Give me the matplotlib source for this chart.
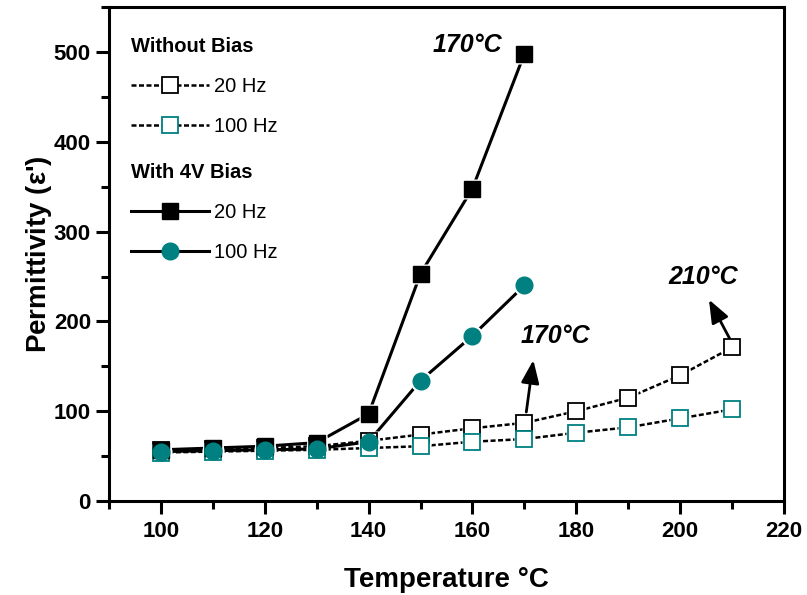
import numpy as np
import matplotlib.pyplot as plt

plt.rcParams['font.family'] = ['Liberation Sans', 'DejaVu Sans']
plt.rcParams['mathtext.fontset'] = 'custom'
plt.rcParams['mathtext.rm'] = 'Liberation Sans'

teal = '#008080'

# without bias (open squares)
temp_nb = [100, 110, 120, 130, 140, 150, 160, 170, 180, 190, 200, 210]
nb_20hz = [57, 58, 59, 61, 67, 74, 81, 87, 100, 115, 140, 171]
nb_100hz = [54, 55, 56, 57, 59, 61, 66, 69, 76, 82, 92, 102]

# with 4V bias (filled)
temp_b = [100, 110, 120, 130, 140, 150, 160, 170]
b_20hz = [57, 59, 61, 65, 97, 253, 348, 498]
b_100hz = [55, 56, 57, 58, 66, 134, 184, 240]

fig = plt.figure(figsize=(8.07, 5.95), dpi=100)
ax = fig.add_axes([0.135, 0.158, 0.8365, 0.83])

dash = (0, (2, 1))
ms = 11

# lines
ax.plot(temp_nb, nb_20hz, color='black', lw=1.8, ls=dash, zorder=2)
ax.plot(temp_nb, nb_100hz, color='black', lw=1.8, ls=dash, zorder=2)
ax.plot(temp_b, b_20hz, color='black', lw=2.2, zorder=2)
ax.plot(temp_b, b_100hz, color='black', lw=2.2, zorder=2)

# white halos to leave a gap between lines and markers
ax.plot(temp_nb, nb_20hz, ls='none', marker='s', ms=ms + 4, mfc='white', mec='none', zorder=3)
ax.plot(temp_nb, nb_100hz, ls='none', marker='s', ms=ms + 4, mfc='white', mec='none', zorder=3)
ax.plot(temp_b, b_20hz, ls='none', marker='s', ms=ms + 4, mfc='white', mec='none', zorder=3)
ax.plot(temp_b, b_100hz, ls='none', marker='o', ms=ms + 5, mfc='white', mec='none', zorder=3)

# markers
ax.plot(temp_nb, nb_20hz, ls='none', marker='s', ms=ms, mfc='white', mec='black', mew=1.3, zorder=4)
ax.plot(temp_nb, nb_100hz, ls='none', marker='s', ms=ms, mfc='white', mec=teal, mew=1.3, zorder=4)
ax.plot(temp_b, b_20hz, ls='none', marker='s', ms=ms, mfc='black', mec='black', zorder=5)
ax.plot(temp_b, b_100hz, ls='none', marker='o', ms=ms + 1, mfc=teal, mec=teal, zorder=6)

# legend handles
h1, = ax.plot([], [], color='black', lw=1.8, ls=dash, marker='s', ms=ms, mfc='white', mec='black', mew=1.3)
h2, = ax.plot([], [], color='black', lw=1.8, ls=dash, marker='s', ms=ms, mfc='white', mec=teal, mew=1.3)
h3, = ax.plot([], [], color='black', lw=2.2, marker='s', ms=ms, mfc='black', mec='black')
h4, = ax.plot([], [], color='black', lw=2.2, marker='o', ms=ms + 1, mfc=teal, mec=teal)

leg_kw = dict(loc='upper left', frameon=False, fontsize=14.5, handlelength=3.9,
              handletextpad=0.25, labelspacing=1.05, borderpad=0, borderaxespad=0,
              alignment='left', title_fontproperties={'weight': 'bold', 'size': 14.5})
leg1 = ax.legend([h1, h2], ['20 Hz', '100 Hz'], title='Without Bias',
                 bbox_to_anchor=(0.032, 0.94), **leg_kw)
ax.add_artist(leg1)
ax.legend([h3, h4], ['20 Hz', '100 Hz'], title='With 4V Bias',
          bbox_to_anchor=(0.032, 0.685), **leg_kw)

# annotations
ax.text(159, 508, '170°C', fontsize=18, fontweight='bold', style='italic', ha='center', va='center')
ax.text(176, 184, '170°C', fontsize=18, fontweight='bold', style='italic', ha='center', va='center')
ax.text(204.5, 249, '210°C', fontsize=18, fontweight='bold', style='italic', ha='center', va='center')
arrow = dict(arrowstyle='-|>,head_length=1.4,head_width=0.55', color='black', lw=2)
ax.annotate('', xy=(171.8, 160), xytext=(170.3, 96), arrowprops=arrow)
ax.annotate('', xy=(205.3, 227), xytext=(209.8, 178), arrowprops=arrow)

ax.set_xlim(90, 220)
ax.set_ylim(0, 550)
ax.set_xticks(np.arange(100, 221, 20))
ax.set_xticks(np.arange(90, 221, 10), minor=True)
ax.set_yticks(np.arange(0, 501, 100))
ax.set_yticks(np.arange(0, 551, 50), minor=True)

for s in ax.spines.values():
    s.set_linewidth(2.2)
ax.tick_params(which='major', direction='out', length=9.5, width=2.2, labelsize=16)
ax.tick_params(which='minor', direction='out', length=5.5, width=2.2)
ax.tick_params(axis='x', which='major', pad=5)
for lab in ax.get_xticklabels() + ax.get_yticklabels():
    lab.set_fontweight('bold')

ax.set_xlabel('Temperature °C', fontsize=20, fontweight='bold', labelpad=18)
ax.set_ylabel(r"Permittivity $\mathregular{(\varepsilon}$'$\mathregular{)}$",
              fontsize=20, fontweight='bold', labelpad=0)

fig.savefig('out.png', dpi=100)
